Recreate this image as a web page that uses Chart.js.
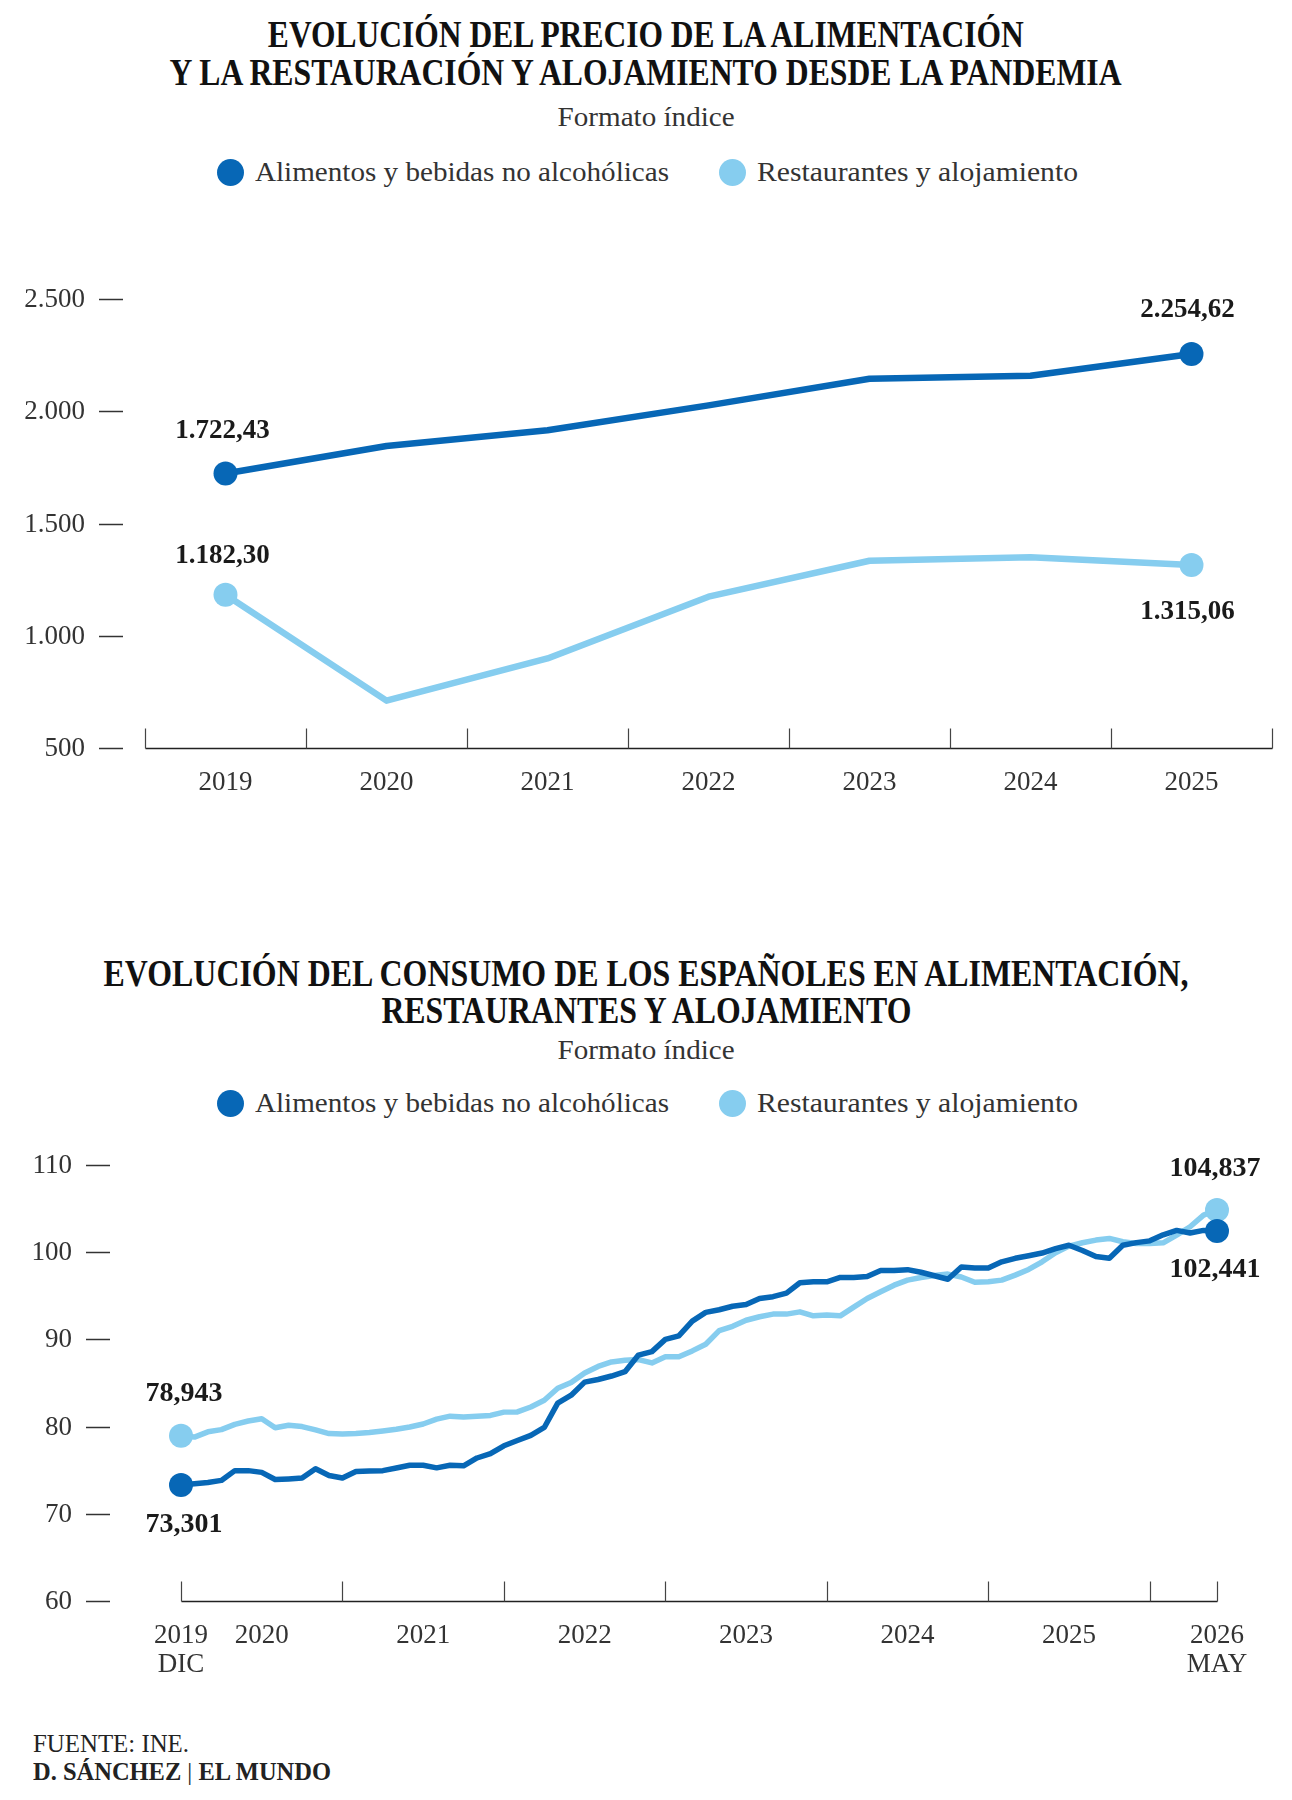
<!DOCTYPE html>
<html lang="es">
<head>
<meta charset="utf-8">
<title>Evolución del precio y del consumo en alimentación, restaurantes y alojamiento</title>
<script src="https://cdn.jsdelivr.net/npm/chart.js@4.4.1/dist/chart.umd.min.js"></script>
<style>
  html, body { margin: 0; padding: 0; background: #fff; }
  #page { position: relative; width: 1292px; height: 1800px; overflow: hidden; font-family: "Liberation Serif", serif; color: #222; }
  .row { position: absolute; left: 0; width: 1292px; text-align: center; white-space: nowrap; }
  .fit { display: inline-block; transform-origin: center center; }
  .title { font-weight: bold; font-size: 37px; line-height: 37px; color: #111; }
  .sub { font-size: 27px; line-height: 27px; color: #333; }
  .leg { position: absolute; white-space: nowrap; font-size: 27px; line-height: 27px; color: #333; }
  .leg .fit { transform-origin: left center; }
  .dot { position: absolute; width: 27px; height: 27px; border-radius: 50%; }
  canvas { position: absolute; left: 0; }
  .foot { position: absolute; left: 33px; font-size: 26px; line-height: 26px; white-space: nowrap; color: #222; }
  .foot .fit { transform-origin: left center; }
</style>
</head>
<body>
<div id="page">
  <div class="row title" style="top:15.5px"><span class="fit" data-w="756">EVOLUCIÓN DEL PRECIO DE LA ALIMENTACIÓN</span></div>
  <div class="row title" style="top:53.5px"><span class="fit" data-w="952">Y LA RESTAURACIÓN Y ALOJAMIENTO DESDE LA PANDEMIA</span></div>
  <div class="row sub" style="top:103.5px"><span class="fit" data-w="177">Formato índice</span></div>
  <div id="legend1"></div>

  <canvas id="chart1" width="1292" height="620" style="top:230px"></canvas>

  <div class="row title" style="top:954.5px"><span class="fit" data-w="1085">EVOLUCIÓN DEL CONSUMO DE LOS ESPAÑOLES EN ALIMENTACIÓN,</span></div>
  <div class="row title" style="top:991.5px"><span class="fit" data-w="530">RESTAURANTES Y ALOJAMIENTO</span></div>
  <div class="row sub" style="top:1036.5px"><span class="fit" data-w="177">Formato índice</span></div>
  <div id="legend2"></div>

  <canvas id="chart2" width="1292" height="600" style="top:1120px"></canvas>

  <div class="foot" style="top:1731px"><span class="fit" data-w="156">FUENTE: INE.</span></div>
  <div class="foot" style="top:1759px"><span class="fit" data-w="298"><b>D. SÁNCHEZ</b> | <b>EL MUNDO</b></span></div>
</div>

<script>
// ---- data ----
const seriesNames = ['Alimentos y bebidas no alcohólicas', 'Restaurantes y alojamiento'];
const seriesColors = ['#0767b6', '#86cdef'];

// chart 1: yearly price index
const years = ['2019', '2020', '2021', '2022', '2023', '2024', '2025'];
const foodPrice = [1722.43, 1845, 1915, 2026, 2145, 2158, 2254.62];
const restPrice = [1182.30, 711, 899, 1174, 1334, 1350, 1315.06];
const priceTicks = [500, 1000, 1500, 2000, 2500];

// chart 2: monthly consumption index, Dec 2019 - May 2026
const months = [];
for (let k = 0; k < 78; k++) {
  const m = (11 + k) % 12;
  const yr = 2019 + Math.floor((11 + k) / 12);
  months.push(yr + '-' + String(m + 1).padStart(2, '0'));
}
const foodIndex = [
  73.301, 73.45, 73.6, 73.83, 74.95, 74.95, 74.75, 73.93, 74.0, 74.1,
  75.17, 74.4, 74.1, 74.85, 74.9, 74.95, 75.25, 75.56, 75.56, 75.27,
  75.56, 75.5, 76.4, 76.9, 77.8, 78.4, 79.0, 79.9, 82.7, 83.6,
  85.1, 85.4, 85.8, 86.3, 88.2, 88.6, 90.0, 90.4, 92.1, 93.1,
  93.4, 93.8, 94.0, 94.7, 94.9, 95.3, 96.5, 96.6, 96.6, 97.1,
  97.1, 97.2, 97.9, 97.9, 98.0, 97.7, 97.3, 96.9, 98.3, 98.2,
  98.2, 98.9, 99.3, 99.6, 99.9, 100.4, 100.8, 100.2, 99.5, 99.3,
  100.8, 101.1, 101.3, 102.0, 102.5, 102.2, 102.5, 102.441
];
const restIndex = [
  78.943, 78.8, 79.4, 79.65, 80.26, 80.64, 80.9, 79.86, 80.15, 80.0,
  79.62, 79.2, 79.15, 79.2, 79.33, 79.5, 79.7, 79.95, 80.3, 80.85,
  81.2, 81.1, 81.2, 81.28, 81.66, 81.68, 82.25, 83.02, 84.4, 85.05,
  86.15, 86.9, 87.42, 87.61, 87.69, 87.3, 88.0, 88.0, 88.68, 89.45,
  91.0, 91.5, 92.2, 92.6, 92.9, 92.9, 93.16, 92.7, 92.8, 92.7,
  93.7, 94.69, 95.46, 96.22, 96.8, 97.1, 97.33, 97.49, 97.15, 96.55,
  96.6, 96.8, 97.37, 98.02, 98.9, 99.93, 100.7, 101.08, 101.39, 101.58,
  101.2, 101.0, 101.0, 101.08, 101.96, 102.92, 104.26, 104.837
];
const indexTicks = [60, 70, 80, 90, 100, 110];
const monthTickAt = [0, 12, 24, 36, 48, 60, 72, 77];
const monthLabelAt = [0, 6, 18, 30, 42, 54, 66, 77];
const monthLabelText = [['2019', 'DIC'], '2020', '2021', '2022', '2023', '2024', '2025', ['2026', 'MAY']];

// ---- helpers ----
function fmtEs(v, dec) {
  const parts = v.toFixed(dec).split('.');
  const intPart = parts[0].replace(/\B(?=(\d{3})+(?!\d))/g, '.');
  return parts[1] ? intPart + ',' + parts[1] : intPart;
}

function buildLegend(id, centerY) {
  const box = document.getElementById(id);
  const dotX = [230, 732];
  const textX = [255, 757];
  const textW = [414, 321];
  seriesNames.forEach((name, i) => {
    const dot = document.createElement('div');
    dot.className = 'dot';
    dot.style.left = (dotX[i] - 13.5) + 'px';
    dot.style.top = (centerY - 13.5) + 'px';
    dot.style.background = seriesColors[i];
    box.appendChild(dot);
    const lab = document.createElement('div');
    lab.className = 'leg';
    lab.style.left = textX[i] + 'px';
    lab.style.top = (centerY - 13.5) + 'px';
    lab.innerHTML = '<span class="fit" data-w="' + textW[i] + '"></span>';
    lab.firstChild.textContent = name;
    box.appendChild(lab);
  });
}
buildLegend('legend1', 172);
buildLegend('legend2', 1103);

document.querySelectorAll('.fit').forEach(el => {
  const w = el.getBoundingClientRect().width;
  el.style.transform = 'scaleX(' + (+el.dataset.w / w).toFixed(4) + ')';
});

// ---- plugins ----
const axisDecor = {
  id: 'axisDecor',
  afterDraw(chart, args, opts) {
    const { ctx } = chart;
    const x = chart.scales.x, y = chart.scales.y;
    ctx.save();
    ctx.strokeStyle = '#333';
    ctx.lineWidth = 1.5;
    ctx.fillStyle = '#333';
    ctx.font = '27px "Liberation Serif", serif';
    ctx.textAlign = 'right';
    ctx.textBaseline = 'middle';
    opts.yTicks.forEach(v => {
      const py = Math.round(y.getPixelForValue(v)) + 0.5;
      ctx.beginPath();
      ctx.moveTo(opts.dashFrom, py);
      ctx.lineTo(opts.dashTo, py);
      ctx.stroke();
      ctx.fillText(opts.format(v), opts.labelRight, py);
    });
    const base = Math.round(y.getPixelForValue(y.min)) + 0.5;
    const xs = opts.xTicks.map(v => Math.round(x.getPixelForValue(v)) + 0.5);
    ctx.strokeStyle = '#222';
    ctx.beginPath();
    ctx.moveTo(xs[0], base);
    ctx.lineTo(xs[xs.length - 1], base);
    ctx.stroke();
    ctx.lineWidth = 1.2;
    ctx.strokeStyle = '#444';
    xs.forEach(px => {
      ctx.beginPath();
      ctx.moveTo(px, base);
      ctx.lineTo(px, base - 20);
      ctx.stroke();
    });
    ctx.restore();
  }
};

const endLabels = {
  id: 'endLabels',
  afterDatasetsDraw(chart, args, opts) {
    const { ctx } = chart;
    ctx.save();
    ctx.font = opts.font;
    ctx.fillStyle = '#1a1a1a';
    ctx.textAlign = 'center';
    ctx.textBaseline = 'middle';
    chart.data.datasets.forEach((ds, di) => {
      const meta = chart.getDatasetMeta(di);
      const last = ds.data.length - 1;
      [[0, opts.firstDy[di], opts.dx[0]], [last, opts.lastDy[di], opts.dx[1]]].forEach(([i, dy, dx]) => {
        const pt = meta.data[i];
        ctx.fillText(fmtEs(ds.data[i], opts.decimals), pt.x + dx, pt.y + dy);
      });
    });
    ctx.restore();
  }
};

Chart.defaults.font.family = '"Liberation Serif", serif';
Chart.defaults.color = '#333';

function endPoints(radius) {
  return c => (c.dataIndex === 0 || c.dataIndex === c.dataset.data.length - 1) ? radius : 0;
}

function lineSet(label, data, color, width) {
  return {
    label: label,
    data: data,
    borderColor: color,
    backgroundColor: color,
    pointBackgroundColor: color,
    borderWidth: width,
    pointRadius: endPoints(12),
    pointBorderWidth: 0,
    pointHoverRadius: 12,
    tension: 0,
    borderJoinStyle: 'round',
    borderCapStyle: 'round',
    clip: false
  };
}

// ---- chart 1 ----
new Chart(document.getElementById('chart1'), {
  type: 'line',
  data: {
    labels: years,
    datasets: [
      lineSet(seriesNames[0], foodPrice, seriesColors[0], 6.5),
      lineSet(seriesNames[1], restPrice, seriesColors[1], 6.5)
    ]
  },
  options: {
    responsive: false,
    devicePixelRatio: 1,
    animation: false,
    events: [],
    layout: { padding: { left: 145, right: 20, top: 69, bottom: 42 } },
    scales: {
      x: {
        type: 'category',
        offset: true,
        grid: { display: false },
        border: { display: false },
        ticks: { font: { size: 27, lineHeight: 1.2 }, color: '#333', padding: 11, maxRotation: 0 },
        afterFit: s => { s.height = 60; }
      },
      y: { display: false, min: 500, max: 2500 }
    },
    plugins: {
      legend: { display: false },
      tooltip: { enabled: false },
      axisDecor: {
        yTicks: priceTicks,
        format: v => fmtEs(v, 0),
        labelRight: 85,
        dashFrom: 99,
        dashTo: 123,
        xTicks: years.map((_, i) => i - 0.5).concat([years.length - 0.5])
      },
      endLabels: {
        font: 'bold 27px "Liberation Serif", serif',
        decimals: 2,
        dx: [-3, -4],
        firstDy: [-43, -39],
        lastDy: [-44, 47]
      }
    }
  },
  plugins: [axisDecor, endLabels]
});

// ---- chart 2 ----
new Chart(document.getElementById('chart2'), {
  type: 'line',
  data: {
    labels: months,
    datasets: [
      lineSet(seriesNames[0], foodIndex, seriesColors[0], 5.5),
      lineSet(seriesNames[1], restIndex, seriesColors[1], 5.5)
    ]
  },
  options: {
    responsive: false,
    devicePixelRatio: 1,
    animation: false,
    events: [],
    layout: { padding: { left: 181, right: 75, top: 45, bottom: 29 } },
    scales: {
      x: {
        type: 'category',
        offset: false,
        grid: { display: false },
        border: { display: false },
        ticks: {
          autoSkip: false,
          maxRotation: 0,
          minRotation: 0,
          padding: 12.5,
          color: '#333',
          font: { size: 27, lineHeight: 1.075 },
          callback: (value, index) => {
            const k = monthLabelAt.indexOf(index);
            return k >= 0 ? monthLabelText[k] : null;
          }
        },
        afterFit: s => { s.height = 90; }
      },
      y: { display: false, min: 60, max: 110 }
    },
    plugins: {
      legend: { display: false },
      tooltip: { enabled: false },
      axisDecor: {
        yTicks: indexTicks,
        format: v => String(v),
        labelRight: 72,
        dashFrom: 86,
        dashTo: 110,
        xTicks: monthTickAt
      },
      endLabels: {
        font: 'bold 28px "Liberation Serif", serif',
        decimals: 3,
        dx: [3, -2],
        firstDy: [40, -42],
        lastDy: [39, -41]
      }
    }
  },
  plugins: [axisDecor, endLabels]
});
</script>
</body>
</html>
